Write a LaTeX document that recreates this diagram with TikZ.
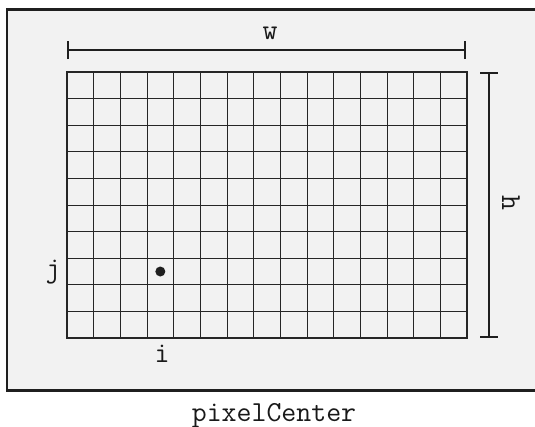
\documentclass[tikz,border=0pt]{standalone}
\usepackage{fontspec}
\begin{document}
\begin{tikzpicture}[x=1pt,y=-1pt,
  frame/.style={draw=black!88,line width=2.6pt,fill=black!5},
  gridborder/.style={draw=black!85,line width=2.4pt},
  gridline/.style={draw=black!85,line width=1.5pt},
  dimline/.style={draw=black!88,line width=2.2pt},
  lbl/.style={font=\ttfamily\fontsize{29}{29}\selectfont,inner sep=0pt,anchor=base,text=black!90},
  dot/.style={circle,fill=black!88,inner sep=0pt,minimum size=10pt}]
\useasboundingbox (0,0) rectangle (535,426);
\begin{scope}
\clip (0,0) rectangle (535,426);
\draw[frame] (7,9.5) rectangle (545,390.5);
\end{scope}
% grid
\foreach \k in {1,...,14} {
  \pgfmathsetmacro{\gx}{floor(67+\k*400/15)+0.5}
  \draw[gridline] (\gx,72) -- (\gx,338);}
\foreach \k in {1,...,9} {
  \pgfmathsetmacro{\gy}{floor(72+\k*26.6)+0.5}
  \draw[gridline] (67,\gy) -- (467,\gy);}
\draw[gridborder] (67,72) rectangle (467,338);
% dot
\node[dot] (p) at ({67+3.5*400/15},{72+7.5*26.6}) {};
% w dimension
\coordinate (wl) at (68,50); \coordinate (wr) at (465,50);
\draw[dimline] (wl) -- (wr);
\draw[dimline] ([yshift=-9]wl) -- ([yshift=9]wl);
\draw[dimline] ([yshift=-9]wr) -- ([yshift=9]wr);
\node[lbl] (w) at (270,39) {w};
% h dimension
\coordinate (ht) at (489,73); \coordinate (hb) at (489,337);
\draw[dimline] (ht) -- (hb);
\draw[dimline] ([xshift=-9]ht) -- ([xshift=9]ht);
\draw[dimline] ([xshift=-9]hb) -- ([xshift=9]hb);
\node[lbl,rotate=-90] (h) at (502,203) {h};
% labels
\node[lbl] (j) at (53,277) {j};
\node[lbl] (i) at (162,362) {i};
\node[lbl] (cap) at (274,421) {pixelCenter};
\end{tikzpicture}
\end{document}
